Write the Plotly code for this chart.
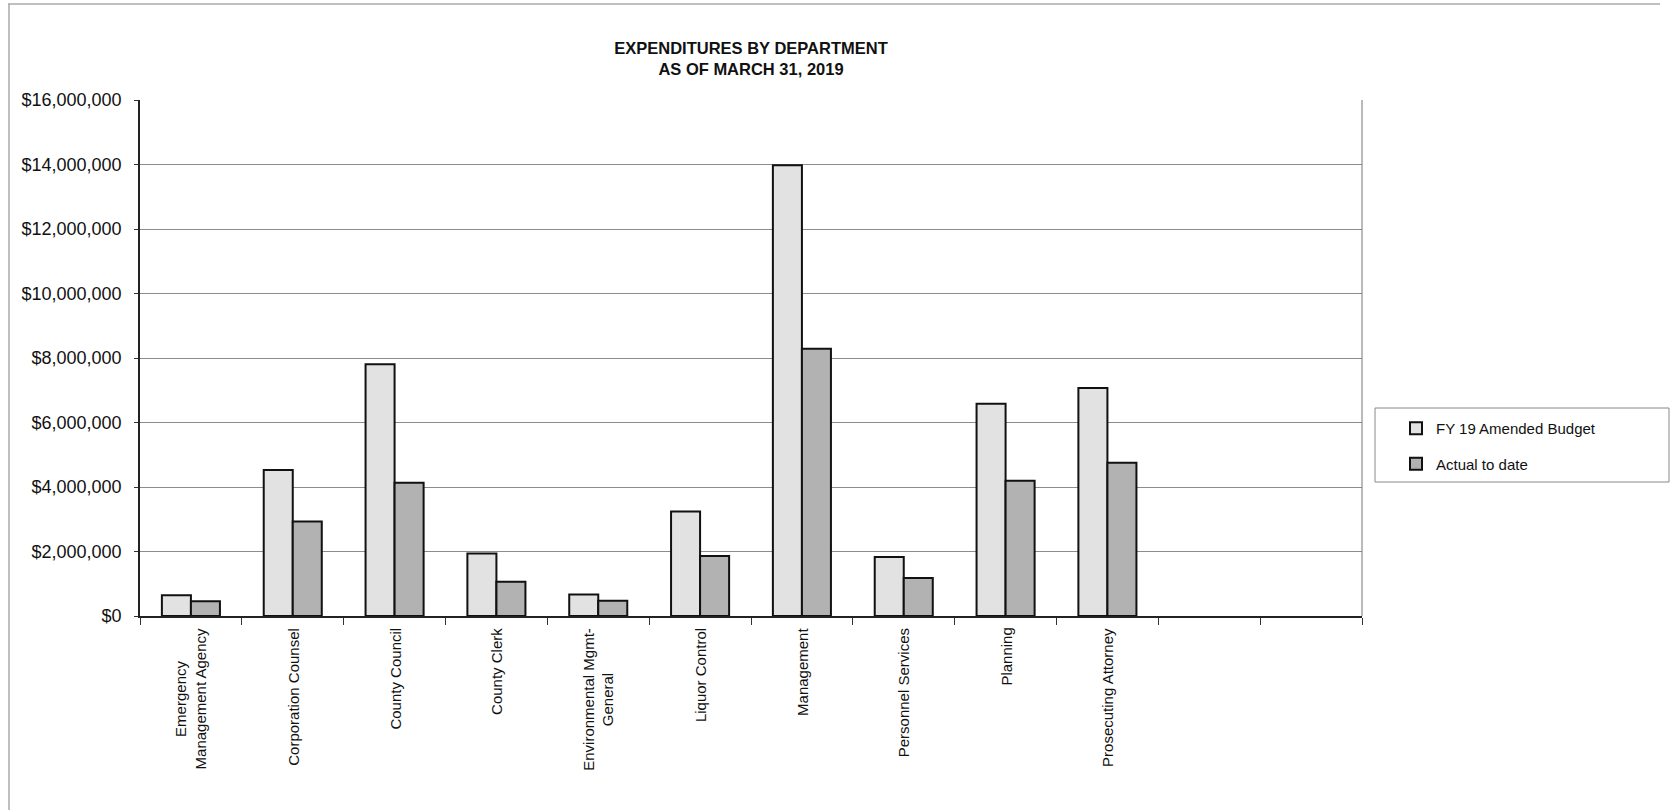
import plotly.graph_objects as go

# Departments (two trailing empty slots on the category axis)
departments = [
    "Emergency<br>Management Agency",
    "Corporation Counsel",
    "County Council",
    "County Clerk",
    "Environmental Mgmt-<br>General",
    "Liquor Control",
    "Management",
    "Personnel Services",
    "Planning",
    "Prosecuting Attorney",
    " ",
    "  ",
]

amended_budget = [640000, 4530000, 7810000, 1940000, 670000, 3240000,
                  13980000, 1830000, 6580000, 7070000, None, None]
actual_to_date = [460000, 2930000, 4130000, 1060000, 470000, 1860000,
                  8290000, 1180000, 4190000, 4750000, None, None]

y_ticks = [0, 2000000, 4000000, 6000000, 8000000, 10000000,
           12000000, 14000000, 16000000]
y_tick_text = [f"${v:,}" for v in y_ticks]

FONT = "Liberation Sans, Arial, sans-serif"

# plot-area geometry in pixels, used to place boxes in paper coordinates
W, H = 1672, 810
L, R, T, B = 140, 310, 100, 194
PW, PH = W - L - R, H - T - B


def px_x(px):
    return (px - L) / PW


def px_y(py):
    return (H - B - py) / PH


fig = go.Figure()
fig.add_trace(go.Bar(
    x=departments, y=amended_budget, name="FY 19 Amended Budget",
    legendgroup="a",
    marker=dict(color="#e2e2e2", line=dict(color="#111111", width=2)),
))
fig.add_trace(go.Bar(
    x=departments, y=actual_to_date, name="Actual to date",
    legendgroup="b",
    marker=dict(color="#b2b2b2", line=dict(color="#111111", width=2)),
))

# rotated category labels under the axis
annotations = []
for d in departments:
    if d.strip():
        annotations.append(dict(
            x=d, y=0, xref="x", yref="paper", yshift=-10,
            text=d, textangle=-90, showarrow=False,
            xanchor="center", yanchor="top", align="center",
            font=dict(family=FONT, size=15, color="#111111"),
        ))

shapes = [
    # outer frame of the chart sheet
    dict(type="line", xref="paper", yref="paper",
         x0=px_x(8), x1=px_x(1660), y0=px_y(4), y1=px_y(4),
         line=dict(color="#aaaaaa", width=1.5)),
    dict(type="line", xref="paper", yref="paper",
         x0=px_x(9), x1=px_x(9), y0=px_y(4), y1=px_y(810),
         line=dict(color="#aaaaaa", width=1.5)),
    # legend frame
    dict(type="rect", xref="paper", yref="paper",
         x0=px_x(1375), x1=px_x(1669), y0=px_y(408), y1=px_y(482),
         line=dict(color="#888888", width=1)),
    # right edge of plot area
    dict(type="line", xref="paper", yref="paper",
         x0=1, x1=1, y0=0, y1=1, line=dict(color="#777777", width=1)),
]

fig.update_layout(
    width=W, height=H,
    margin=dict(l=L, r=R, t=T, b=B),
    paper_bgcolor="white", plot_bgcolor="white",
    font=dict(family=FONT, size=15, color="#111111"),
    title=dict(
        text="<b>EXPENDITURES BY DEPARTMENT<br>AS OF MARCH 31, 2019</b>",
        x=0.5, xref="paper", xanchor="center",
        y=1 - 54 / H, yref="container", yanchor="top",
        font=dict(family=FONT, size=16.5, color="#111111"),
    ),
    barmode="group", bargap=0.43, bargroupgap=0,
    showlegend=True,
    legend=dict(
        x=px_x(1396), y=px_y(412), xanchor="left", yanchor="top",
        bgcolor="rgba(0,0,0,0)", borderwidth=0,
        traceorder="grouped", tracegroupgap=13,
        font=dict(family=FONT, size=15, color="#111111"),
    ),
    xaxis=dict(
        type="category", categoryorder="array", categoryarray=departments,
        showticklabels=False, tickson="boundaries",
        ticks="outside", ticklen=7, tickcolor="#333333", tickwidth=1,
        showline=True, linecolor="#222222", linewidth=2,
        showgrid=False, zeroline=False,
    ),
    yaxis=dict(
        range=[0, 16000000], tickmode="array",
        tickvals=y_ticks, ticktext=y_tick_text,
        ticks="outside", ticklen=4, tickcolor="#333333",
        ticklabelstandoff=9,
        showline=True, linecolor="#222222", linewidth=1.5,
        showgrid=True, gridcolor="#8c8c8c", gridwidth=1,
        zeroline=False,
        tickfont=dict(family=FONT, size=18, color="#111111"),
    ),
    annotations=annotations,
    shapes=shapes,
)

fig.write_html("out.html")
